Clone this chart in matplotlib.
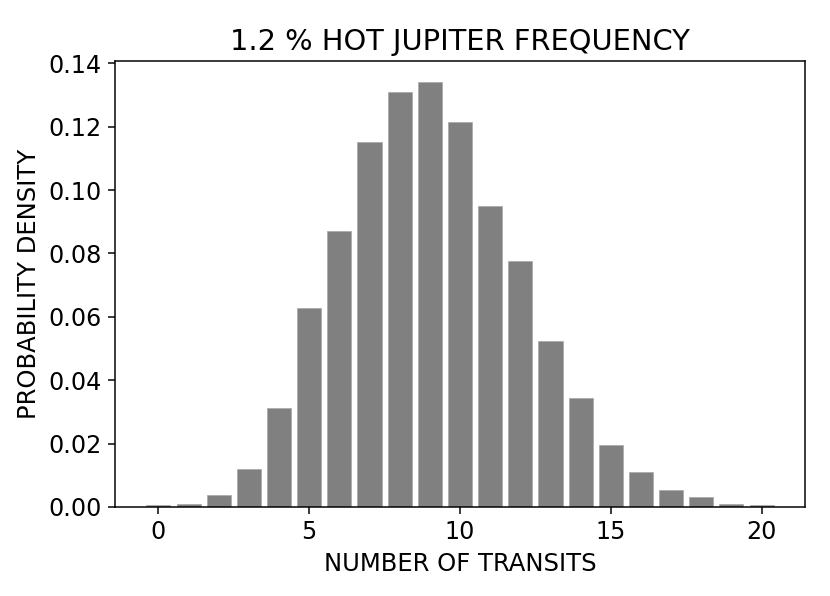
import matplotlib
matplotlib.use("Agg")
import matplotlib.pyplot as plt
import numpy as np

s = 1.35
plt.rcParams.update({
    'axes.linewidth': 0.8 * s,
    'xtick.major.size': 3.5 * s, 'ytick.major.size': 3.5 * s,
    'xtick.major.width': 0.8 * s, 'ytick.major.width': 0.8 * s,
    'xtick.major.pad': 3.5 * s, 'ytick.major.pad': 3.5 * s,
    'axes.titlepad': 6 * s, 'axes.labelpad': 4 * s,
})

transits = list(range(21))
density = [0.0005, 0.0010, 0.0037, 0.0121, 0.0312, 0.0628, 0.0871, 0.1151, 0.1309,
           0.1340, 0.1215, 0.0950, 0.0776, 0.0524, 0.0344, 0.0197, 0.0110, 0.0055,
           0.0031, 0.0008, 0.0005]

fig = plt.figure(figsize=(8.3, 5.96), dpi=100)
ax = fig.add_axes([115/830, 1-507/596, 690/830, 446/596])
ax.bar(transits, density, width=0.8, color='#808080', edgecolor='#a8a8a8', linewidth=0.5)
ax.set_title('1.2 % HOT JUPITER FREQUENCY', fontsize=20.8)
ax.set_xlabel('NUMBER OF TRANSITS', fontsize=17.5)
ax.set_ylabel('PROBABILITY DENSITY', fontsize=17.5)
ax.tick_params(labelsize=17.2)
fig.savefig('out.png', dpi=100)
